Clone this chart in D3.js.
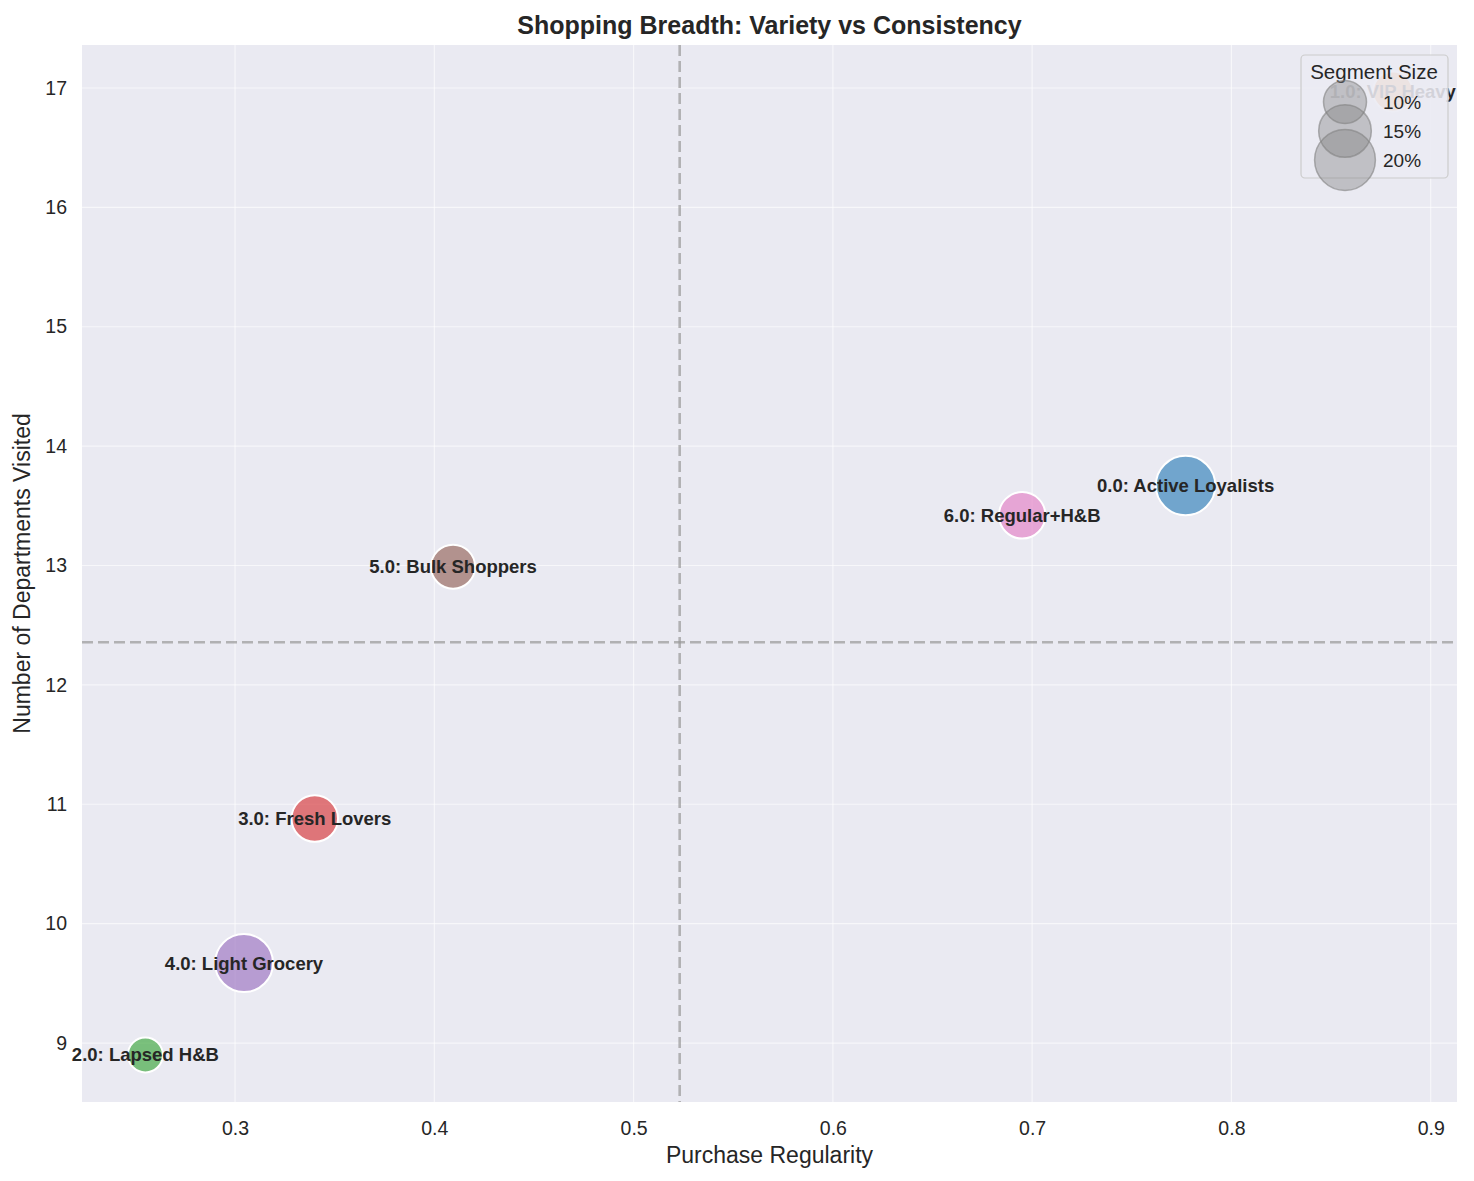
<!DOCTYPE html>
<html>
<head>
<meta charset="utf-8">
<script src="https://cdn.jsdelivr.net/npm/d3@7"></script>
<style>
  body { margin: 0; background: #fff; }
  text { font-family: Arial, "Liberation Sans", sans-serif; fill: #262626; }
</style>
</head>
<body>
<div id="chart"></div>
<script>
const segments = ['0.0: Active Loyalists', '1.0: VIP Heavy', '2.0: Lapsed H&B', '3.0: Fresh Lovers', '4.0: Light Grocery', '5.0: Bulk Shoppers', '6.0: Regular+H&B'];
const regularity = [0.777, 0.881, 0.255, 0.340, 0.3045, 0.4094, 0.695];
const departments = [13.67, 16.97, 8.90, 10.88, 9.67, 12.99, 13.42];
const segmentPct = [19.1, 8.6, 6.6, 11.7, 18.2, 10.5, 11.7];
const colors = ['#1f77b4', '#ff7f0e', '#2ca02c', '#d62728', '#9467bd', '#8c564b', '#e377c2'];
const legendPct = [10, 15, 20];
const xTicks = [0.3, 0.4, 0.5, 0.6, 0.7, 0.8, 0.9];
const yTicks = [9, 10, 11, 12, 13, 14, 15, 16, 17];

const data = segments.map((s, i) => ({ name: s, x: regularity[i], y: departments[i], pct: segmentPct[i], color: colors[i] }));

const W = 1474, H = 1181;
const margin = { top: 45, right: 17, bottom: 79, left: 82 };

const svg = d3.select('#chart').append('svg')
  .attr('width', W).attr('height', H);

const x = d3.scaleLinear().domain([0.2232, 0.9132]).range([margin.left, W - margin.right]);
const y = d3.scaleLinear().domain([8.506, 17.36]).range([H - margin.bottom, margin.top]);
const r = d3.scaleSqrt().domain([0, 10]).range([0, 21.5]);

// background
svg.append('rect')
  .attr('x', margin.left).attr('y', margin.top)
  .attr('width', W - margin.left - margin.right)
  .attr('height', H - margin.top - margin.bottom)
  .attr('fill', '#eaeaf2');

// grid
svg.append('g').selectAll('line').data(xTicks).enter().append('line')
  .attr('x1', d => x(d)).attr('x2', d => x(d))
  .attr('y1', margin.top).attr('y2', H - margin.bottom)
  .attr('stroke', '#fff').attr('stroke-opacity', 0.6).attr('stroke-width', 1.2);
svg.append('g').selectAll('line').data(yTicks).enter().append('line')
  .attr('y1', d => y(d)).attr('y2', d => y(d))
  .attr('x1', margin.left).attr('x2', W - margin.right)
  .attr('stroke', '#fff').attr('stroke-opacity', 0.6).attr('stroke-width', 1.2);

// axes
const xAxis = svg.append('g')
  .attr('transform', `translate(0,${H - margin.bottom})`)
  .call(d3.axisBottom(x).tickValues(xTicks).tickFormat(d3.format('.1f')).tickSize(0).tickPadding(19.5));
const yAxis = svg.append('g')
  .attr('transform', `translate(${margin.left},0)`)
  .call(d3.axisLeft(y).tickValues(yTicks).tickSize(0).tickPadding(15));
[xAxis, yAxis].forEach(a => {
  a.select('.domain').remove();
  a.selectAll('text').attr('font-size', 19.5).style('fill', '#262626');
});

// mean lines
const meanX = d3.mean(regularity), meanY = d3.mean(departments);
svg.append('line')
  .attr('x1', x(meanX)).attr('x2', x(meanX))
  .attr('y1', margin.top).attr('y2', H - margin.bottom)
  .attr('stroke', '#999').attr('stroke-opacity', 0.7).attr('stroke-width', 2.6)
  .attr('stroke-dasharray', '11,5');
svg.append('line')
  .attr('y1', y(meanY)).attr('y2', y(meanY))
  .attr('x1', margin.left).attr('x2', W - margin.right)
  .attr('stroke', '#999').attr('stroke-opacity', 0.7).attr('stroke-width', 2.6)
  .attr('stroke-dasharray', '11,5');

// bubbles
svg.append('g').selectAll('circle').data(data).enter().append('circle')
  .attr('cx', d => x(d.x)).attr('cy', d => y(d.y))
  .attr('r', d => r(d.pct))
  .attr('fill', d => d.color).attr('fill-opacity', 0.6)
  .attr('stroke', '#fff').attr('stroke-width', 2);

// labels
svg.append('g').selectAll('text').data(data).enter().append('text')
  .attr('x', d => x(d.x)).attr('y', d => y(d.y))
  .attr('text-anchor', 'middle').attr('dominant-baseline', 'central')
  .attr('font-size', 18.5).attr('font-weight', 'bold')
  .text(d => d.name);

// title & axis labels
svg.append('text')
  .attr('x', (margin.left + W - margin.right) / 2).attr('y', 34)
  .attr('text-anchor', 'middle').attr('font-size', 25).attr('font-weight', 'bold')
  .text('Shopping Breadth: Variety vs Consistency');
svg.append('text')
  .attr('x', (margin.left + W - margin.right) / 2).attr('y', 1163)
  .attr('text-anchor', 'middle').attr('font-size', 23)
  .text('Purchase Regularity');
svg.append('text')
  .attr('transform', `translate(30,${(margin.top + H - margin.bottom) / 2}) rotate(-90)`)
  .attr('text-anchor', 'middle').attr('font-size', 23)
  .text('Number of Departments Visited');

// legend
const lg = svg.append('g');
lg.append('rect')
  .attr('x', 1301).attr('y', 55).attr('width', 147).attr('height', 123).attr('rx', 4)
  .attr('fill', '#eaeaf2').attr('fill-opacity', 0.88)
  .attr('stroke', '#cccccc').attr('stroke-width', 1.2);
lg.append('text')
  .attr('x', 1374).attr('y', 79).attr('text-anchor', 'middle').attr('font-size', 20.5)
  .text('Segment Size');
const items = lg.selectAll('g.item').data(legendPct).enter().append('g').attr('class', 'item')
  .attr('transform', (d, i) => `translate(1345,${102 + i * 29})`);
items.append('circle')
  .attr('r', d => r(d))
  .attr('fill', 'gray').attr('fill-opacity', 0.4)
  .attr('stroke', 'gray').attr('stroke-opacity', 0.6).attr('stroke-width', 1.5);
items.append('text')
  .attr('x', 38).attr('dominant-baseline', 'central').attr('font-size', 19)
  .text(d => `${d}%`);
</script>
</body>
</html>
